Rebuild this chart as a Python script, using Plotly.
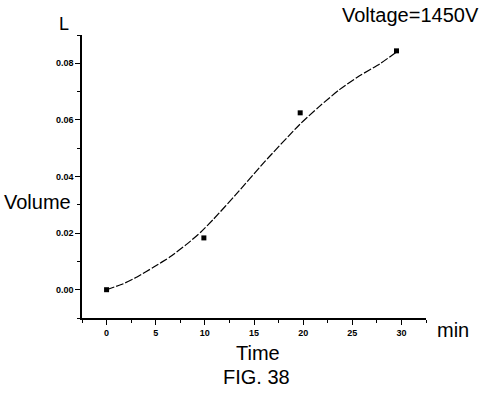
import plotly.graph_objects as go

# measured data points
time_pts = [0, 9.9, 19.7, 29.5]
volume_pts = [0.0, 0.0183, 0.0625, 0.0844]

# fitted curve
curve_t = [0, 1.7, 3.1, 4.8, 6.5, 8.2, 9.6, 10.9, 13.1, 16.0, 19.6, 21.6, 23.7, 25.7, 27.8, 29.5]
curve_v = [0, 0.0021, 0.0045, 0.0080, 0.0117, 0.0162, 0.0204, 0.0250, 0.0334, 0.0449, 0.0582,
           0.0646, 0.0707, 0.0755, 0.0798, 0.0840]

x_ticks = [0, 5, 10, 15, 20, 25, 30]
y_ticks = [0.00, 0.02, 0.04, 0.06, 0.08]

fig = go.Figure()
fig.add_trace(go.Scatter(x=curve_t, y=curve_v, mode="lines",
                         line=dict(color="black", width=1.2, shape="spline", smoothing=0.6,
                                   dash="8px,2px"),
                         hoverinfo="skip"))
fig.add_trace(go.Scatter(x=time_pts, y=volume_pts, mode="markers",
                         marker=dict(symbol="square", size=5, color="black")))

tickfont = dict(family="Liberation Sans, Arial, sans-serif", size=9, color="black", weight="bold")
fig.update_xaxes(range=[-2.5, 32.5], tickvals=x_ticks, ticktext=[str(v) for v in x_ticks],
                 showline=True, linecolor="black", linewidth=1.5, ticks="outside", ticklen=5,
                 tickcolor="black", tickwidth=1, showgrid=False, zeroline=False, tickfont=tickfont,
                 minor=dict(ticks="outside", ticklen=3, tickcolor="black", dtick=2.5, tick0=0),
                 domain=[82 / 484, 426 / 484])
fig.update_yaxes(range=[-0.01, 0.09], tickvals=y_ticks, ticktext=[f"{v:.2f}" for v in y_ticks],
                 showline=True, linecolor="black", linewidth=1.5, ticks="outside", ticklen=5,
                 tickcolor="black", tickwidth=1, showgrid=False, zeroline=False, tickfont=tickfont,
                 minor=dict(ticks="outside", ticklen=3, tickcolor="black", dtick=0.01, tick0=0),
                 domain=[1 - 318 / 397, 1 - 35 / 397])

font = "Liberation Sans, Arial, sans-serif"
ann = [
    dict(text="L", x=64, y=24, size=18),
    dict(text="Voltage=1450V", x=410, y=15, size=20),
    dict(text="Volume", x=37.5, y=202, size=20),
    dict(text="min", x=453, y=330, size=20),
    dict(text="Time", x=258, y=353, size=20),
    dict(text="FIG. 38", x=256.5, y=377, size=20),
]
for a in ann:
    fig.add_annotation(text=a["text"], x=a["x"] / 484, y=1 - a["y"] / 397, xref="paper", yref="paper",
                       xanchor="center", yanchor="middle", showarrow=False,
                       font=dict(family=font, size=a["size"], color="black"))

fig.update_layout(width=484, height=397, margin=dict(l=0, r=0, t=0, b=0, autoexpand=False),
                  paper_bgcolor="white", plot_bgcolor="white", showlegend=False)
fig.write_html("out.html", config={"displayModeBar": False},
               post_script="document.body.style.margin='0px';")
